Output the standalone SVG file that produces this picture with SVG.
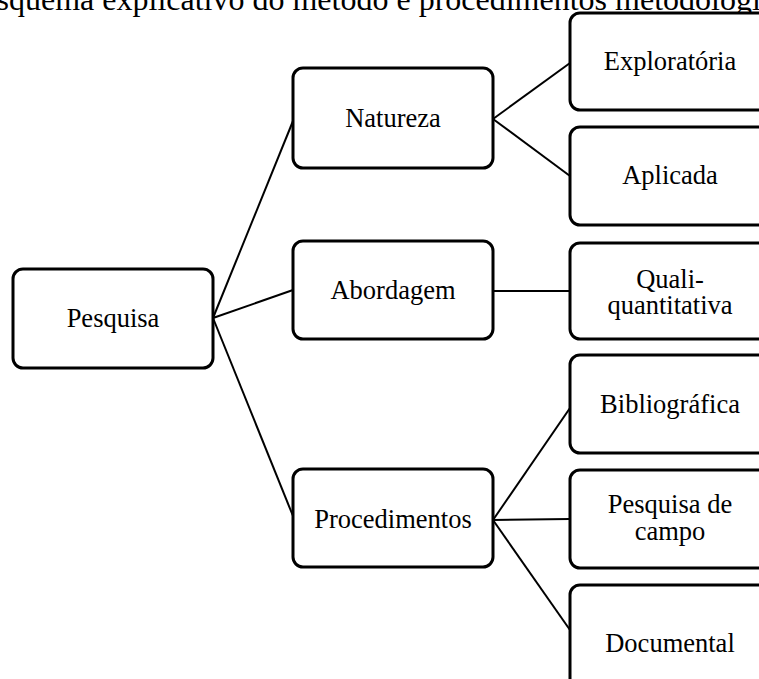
<svg xmlns="http://www.w3.org/2000/svg" width="759" height="679" viewBox="0 0 759 679">
<style>
.box{fill:#fff;stroke:#000;stroke-width:3}
.lbl{font-family:"Liberation Serif","Times New Roman",serif;font-size:26.5px;fill:#000;text-anchor:middle}
.title{font-family:"Liberation Serif","Times New Roman",serif;font-size:32px;fill:#000}
.conn line{stroke:#000;stroke-width:2}
</style>
<rect width="759" height="679" fill="#fff"/>
<text class="title" x="-23" y="10">Esquema explicativo do método e procedimentos metodológicos</text>
<g id="connectors" class="conn">
<line x1="213" y1="318" x2="293" y2="121"/>
<line x1="213" y1="318" x2="293" y2="290"/>
<line x1="213" y1="318" x2="293" y2="516"/>
<line x1="493" y1="119" x2="570" y2="63"/>
<line x1="493" y1="119" x2="570" y2="176"/>
<line x1="493" y1="291" x2="570" y2="291"/>
<line x1="493" y1="520" x2="570" y2="408"/>
<line x1="493" y1="520" x2="570" y2="519"/>
<line x1="493" y1="520" x2="570" y2="630"/>
</g>
<g id="pesquisa"><rect class="box" x="13" y="269" width="200" height="99" rx="10"/><text class="lbl" x="113" y="327">Pesquisa</text></g>
<g id="natureza"><rect class="box" x="293" y="68" width="200" height="100" rx="10"/><text class="lbl" x="393" y="127">Natureza</text></g>
<g id="abordagem"><rect class="box" x="293" y="241" width="200" height="98" rx="10"/><text class="lbl" x="393" y="299">Abordagem</text></g>
<g id="procedimentos"><rect class="box" x="293" y="469" width="200" height="98" rx="10"/><text class="lbl" x="393" y="528">Procedimentos</text></g>
<g id="exploratoria"><rect class="box" x="570" y="13" width="200" height="97" rx="10"/><text class="lbl" x="670" y="70">Exploratória</text></g>
<g id="aplicada"><rect class="box" x="570" y="127" width="200" height="98" rx="10"/><text class="lbl" x="670" y="184">Aplicada</text></g>
<g id="quali"><rect class="box" x="570" y="243" width="200" height="96" rx="10"/><text class="lbl" x="670" y="288">Quali-</text><text class="lbl" x="670" y="314">quantitativa</text></g>
<g id="bibliografica"><rect class="box" x="570" y="355" width="200" height="98" rx="10"/><text class="lbl" x="670" y="413">Bibliográfica</text></g>
<g id="campo"><rect class="box" x="570" y="470" width="200" height="98" rx="10"/><text class="lbl" x="670" y="513">Pesquisa de</text><text class="lbl" x="670" y="540">campo</text></g>
<g id="documental"><rect class="box" x="570" y="585" width="200" height="115" rx="10"/><text class="lbl" x="670" y="652">Documental</text></g>
</svg>
